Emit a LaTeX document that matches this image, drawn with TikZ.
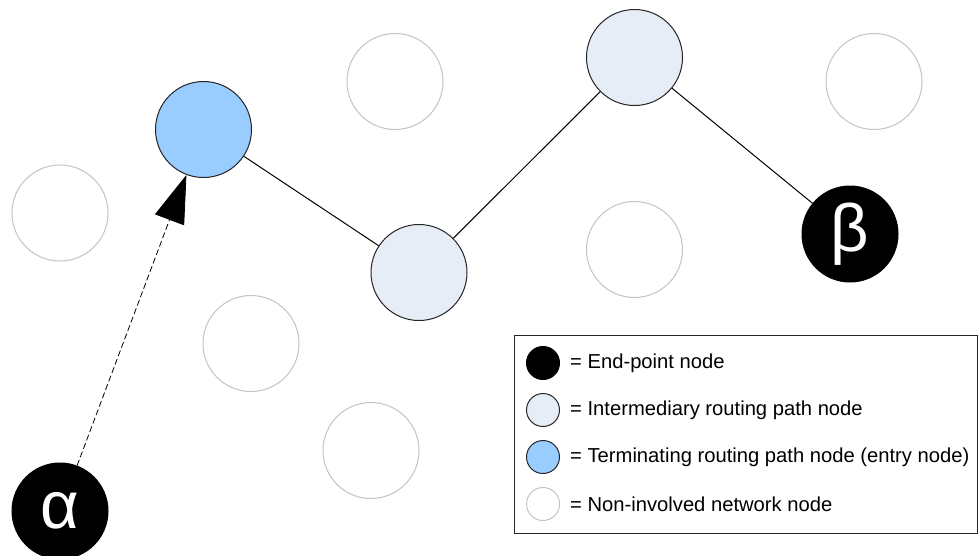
\documentclass[tikz,border=0pt]{standalone}
\usepackage{fontspec}
\setmainfont{Liberation Sans}
\usetikzlibrary{arrows.meta}
\definecolor{termblue}{HTML}{99CCFF}
\definecolor{interfill}{HTML}{E7EDF7}
\definecolor{grayline}{HTML}{C4C4C4}
\tikzset{
  netnode/.style={circle, minimum size=96pt, inner sep=0pt, line width=1pt},
  endpt/.style={netnode, fill=black, draw=black, text=white, font=\fontsize{67}{67}\selectfont},
  inter/.style={netnode, fill=interfill, draw=black!85},
  term/.style={netnode, fill=termblue, draw=black!85},
  idle/.style={netnode, fill=white, draw=grayline},
  legcirc/.style={circle, minimum size=33pt, inner sep=0pt, line width=1pt},
  legtext/.style={anchor=west, font=\fontsize{20.2}{23}\selectfont, inner sep=0pt},
  link/.style={draw=black, line width=1pt},
}
\begin{document}
\begin{tikzpicture}[x=1pt,y=-1pt]
\useasboundingbox (0,0) rectangle (979,555);
\clip (0,0) rectangle (979,555);
\fill[white] (0,0) rectangle (979,555);
% non-involved nodes
\node[idle] (g1) at (395,81.5) {};
\node[idle] (g2) at (60,213) {};
\node[idle] (g3) at (874,81.5) {};
\node[idle] (g4) at (634.5,249.5) {};
\node[idle] (g5) at (251,343.5) {};
\node[idle] (g6) at (371,450.5) {};
% path nodes
\node[term] (entry) at (203.5,129.5) {};
\node[inter] (i1) at (419,272.5) {};
\node[inter] (i2) at (634.5,57.5) {};
\node[endpt] (beta) at (850,234) {β};
\node[endpt] (alpha) at (60,511) {α};
% links
\draw[link] (entry) -- (i1);
\draw[link] (i1) -- (i2);
\draw[link] (i2) -- (beta);
\draw[line width=0.8pt, dash pattern=on 6pt off 3pt, -{Triangle[length=48pt,width=31pt]}] (alpha) -- (entry);
% legend
\node[draw=black!85, line width=1pt, minimum width=463pt, minimum height=198pt, inner sep=0pt] (legend) at (745.5,434) {};
\node[legcirc, fill=black, draw=black] (l1) at (543,363) {};
\node[legcirc, fill=interfill, draw=black!85] (l2) at (543,410) {};
\node[legcirc, fill=termblue, draw=black!85] (l3) at (543,457) {};
\node[legcirc, fill=white, draw=grayline] (l4) at (543,504) {};
\node[legtext] (t1) at (570,363) {= End-point node};
\node[legtext] (t2) at (570,410) {= Intermediary routing path node};
\node[legtext] (t3) at (570,457) {= Terminating routing path node (entry node)};
\node[legtext] (t4) at (570,504) {= Non-involved network node};
\end{tikzpicture}
\end{document}
